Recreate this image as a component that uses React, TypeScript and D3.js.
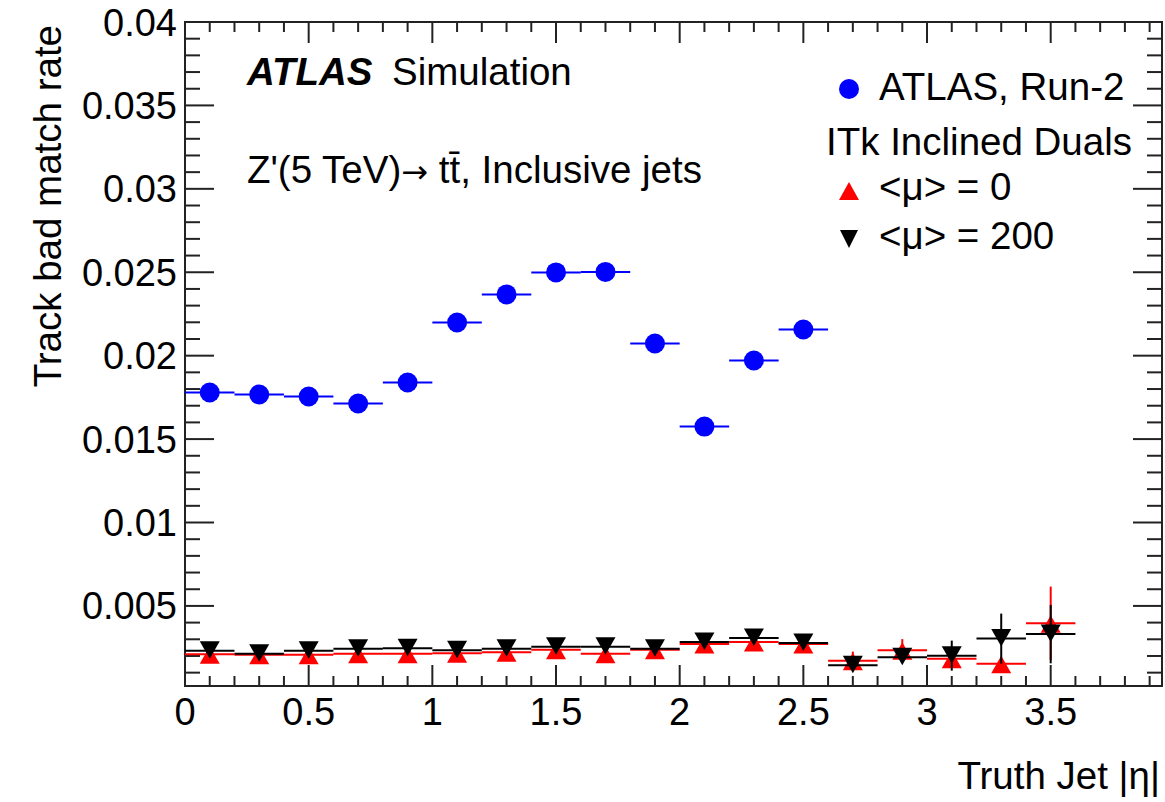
import React from "react";
import * as d3 from "d3";

// ---- data ----
const binCenters = [0.1, 0.3, 0.5, 0.7, 0.9, 1.1, 1.3, 1.5, 1.7, 1.9, 2.1, 2.3, 2.5, 2.7, 2.9, 3.1, 3.3, 3.5];
const binHalfWidth = 0.1;

const run2Values = [0.01779, 0.01767, 0.01755, 0.01713, 0.01839, 0.02199, 0.02367, 0.02499, 0.02502, 0.02073, 0.01575, 0.01971, 0.02157];
const run2Errors = [0.0001, 0.0001, 0.0001, 0.0001, 0.0001, 0.0001, 0.0001, 0.0001, 0.0001, 0.0001, 0.0001, 0.00012, 0.00026];

const mu0Values = [0.00211, 0.00207, 0.00207, 0.00214, 0.00214, 0.00217, 0.00223, 0.00238, 0.00213, 0.00237, 0.00271, 0.00283, 0.00271, 0.00171, 0.00235, 0.00183, 0.00154, 0.00396];
const mu0Errors = [0.00005, 0.00005, 0.00005, 0.00005, 0.00005, 0.00005, 0.00005, 0.00005, 0.00005, 0.00005, 0.00005, 0.00005, 0.00005, 0.00055, 0.00066, 0.0003, 0.0003, 0.0022];

const mu200Values = [0.00232, 0.00213, 0.00232, 0.00243, 0.00247, 0.00235, 0.00244, 0.00256, 0.00256, 0.00243, 0.00283, 0.00307, 0.00278, 0.00145, 0.00193, 0.00202, 0.00304, 0.00331];
const mu200Errors = [0.00005, 0.00005, 0.00005, 0.00005, 0.00005, 0.00005, 0.00005, 0.00005, 0.00005, 0.00005, 0.00005, 0.00005, 0.00005, 0.0002, 0.0003, 0.0009, 0.0015, 0.00175];

const xTickValues = [0, 0.5, 1, 1.5, 2, 2.5, 3, 3.5];
const xTickLabels = ["0", "0.5", "1", "1.5", "2", "2.5", "3", "3.5"];
const yTickValues = [0.005, 0.01, 0.015, 0.02, 0.025, 0.03, 0.035, 0.04];
const yTickLabels = ["0.005", "0.01", "0.015", "0.02", "0.025", "0.03", "0.035", "0.04"];

const FONT = "'Liberation Sans', Arial, Helvetica, sans-serif";
const FS = 38.5;
const FT = 38;

const L = 185, R = 1162, T = 22, B = 686;

export default function App() {
  const x = d3.scaleLinear().domain([0, 3.95]).range([L, R]);
  const y = d3.scaleLinear().domain([0.0002, 0.04]).range([B, T]);

  const xMinor = d3.range(0, 3.951, 0.1).map((v) => +v.toFixed(2));
  const yMinor = d3.range(0.001, 0.04001, 0.001).map((v) => +v.toFixed(4));

  const upTri = (cx: number, cy: number, w = 10, up = 8, dn = 9.5) =>
    `M${cx},${cy - up}L${cx + w},${cy + dn}L${cx - w},${cy + dn}Z`;
  const downTri = (cx: number, cy: number, w = 10, up = 9.5, dn = 8) =>
    `M${cx},${cy + dn}L${cx + w},${cy - up}L${cx - w},${cy - up}Z`;

  const errorBars = (vals: number[], errs: number[], color: string) =>
    vals.map((v, i) => {
      const c = binCenters[i];
      return (
        <g key={i} stroke={color} strokeWidth={2}>
          <line x1={x(c - binHalfWidth)} x2={x(c + binHalfWidth)} y1={y(v)} y2={y(v)} />
          <line x1={x(c)} x2={x(c)} y1={y(Math.max(0.0002, v - errs[i]))} y2={y(v + errs[i])} />
        </g>
      );
    });

  return (
    <svg width={1165} height={802} style={{ position: "absolute", left: 0, top: 0, background: "#fff" }} fontFamily={FONT}>
      <rect x={0} y={0} width={1165} height={802} fill="#fff" />
      {/* ticks */}
      <g stroke="#222" strokeWidth={2}>
        {xMinor.map((v, i) => {
          const major = Math.abs(v * 2 - Math.round(v * 2)) < 1e-6;
          const len = major ? 21 : 10;
          return (
            <g key={"xt" + i}>
              <line x1={x(v)} x2={x(v)} y1={B} y2={B - len} />
              <line x1={x(v)} x2={x(v)} y1={T} y2={T + len} />
            </g>
          );
        })}
        {yMinor.map((v, i) => {
          const major = Math.abs(v * 200 - Math.round(v * 200)) < 1e-6;
          const len = major ? 29 : 15;
          return (
            <g key={"yt" + i}>
              <line x1={L} x2={L + len} y1={y(v)} y2={y(v)} />
              <line x1={R} x2={R - len} y1={y(v)} y2={y(v)} />
            </g>
          );
        })}
      </g>
      {/* frame */}
      <rect x={L} y={T} width={R - L} height={B - T} fill="none" stroke="#222" strokeWidth={2} />

      {/* tick labels */}
      <g fontSize={FT} fill="#000">
        {xTickValues.map((v, i) => (
          <text key={"xl" + i} x={x(v)} y={725} textAnchor="middle">{xTickLabels[i]}</text>
        ))}
        {yTickValues.map((v, i) => (
          <text key={"yl" + i} x={177} y={y(v) + 13.5} textAnchor="end">{yTickLabels[i]}</text>
        ))}
      </g>

      {/* axis titles */}
      <text x={1160} y={789} textAnchor="end" fontSize={FS}>Truth Jet |η|</text>
      <text transform="translate(61,25) rotate(-90)" textAnchor="end" fontSize={FS}>Track bad match rate</text>

      {/* data: Run-2 */}
      {errorBars(run2Values, run2Errors, "#0000ff")}
      {run2Values.map((v, i) => (
        <circle key={"b" + i} cx={x(binCenters[i])} cy={y(v)} r={10} fill="#0000ff" />
      ))}
      {/* mu=0 */}
      {errorBars(mu0Values, mu0Errors, "#ff0000")}
      {mu0Values.map((v, i) => (
        <path key={"r" + i} d={upTri(x(binCenters[i]), y(v))} fill="#ff0000" />
      ))}
      {/* mu=200 */}
      {errorBars(mu200Values, mu200Errors, "#000")}
      {mu200Values.map((v, i) => (
        <path key={"k" + i} d={downTri(x(binCenters[i]), y(v))} fill="#000" />
      ))}

      {/* labels */}
      <text x={247} y={85} fontSize={FS}>
        <tspan fontWeight="bold" fontStyle="italic">ATLAS</tspan>
        <tspan x={392}>Simulation</tspan>
      </text>
      <text x={247} y={183} fontSize={FS}>
        <tspan>Z'(5 TeV)</tspan>
        <tspan fontFamily="'DejaVu Sans', sans-serif" fontSize={32}>→</tspan>
        <tspan> tt̄, Inclusive jets</tspan>
      </text>

      {/* legend */}
      <circle cx={849} cy={89} r={10} fill="#0000ff" />
      <text x={879} y={100} fontSize={FS}>ATLAS, Run-2</text>
      <text x={826} y={155} fontSize={FS}>ITk Inclined Duals</text>
      <path d={upTri(849, 191, 10, 9, 9)} fill="#ff0000" />
      <text x={879} y={200} fontSize={FS}>{"<μ> = 0"}</text>
      <path d={downTri(849, 239, 9, 9, 9)} fill="#000" />
      <text x={879} y={249} fontSize={FS}>{"<μ> = 200"}</text>
    </svg>
  );
}
